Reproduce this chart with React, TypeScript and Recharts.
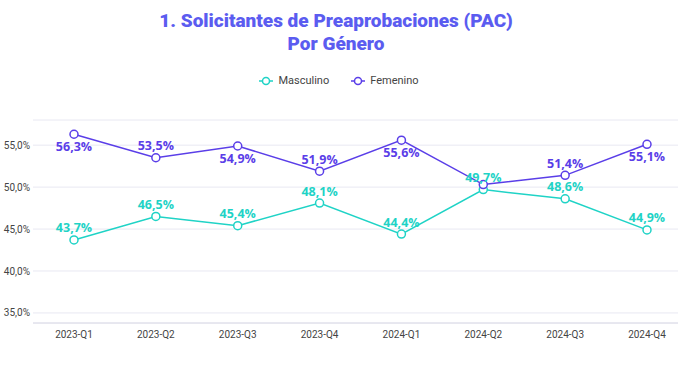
import React from 'react';
import { LineChart, Line, XAxis, YAxis, CartesianGrid } from 'recharts';

const quarters = ['2023-Q1', '2023-Q2', '2023-Q3', '2023-Q4', '2024-Q1', '2024-Q2', '2024-Q3', '2024-Q4'];
const masculino = [43.7, 46.5, 45.4, 48.1, 44.4, 49.7, 48.6, 44.9];
const femenino = [56.3, 53.5, 54.9, 51.9, 55.6, 50.3, 51.4, 55.1];
// where each value label sits relative to its point (null = not drawn)
const masculinoLabelPos = ['above', 'above', 'above', 'above', 'above', 'above', 'above', 'above'];
const femeninoLabelPos = ['below', 'above', 'below', 'above', 'below', null, 'above', 'below'];
const yTicks = [35, 40, 45, 50, 55];

const TEAL = '#1fd3c6';
const PURPLE = '#5a3ee8';
const FONT = 'Roboto, "Open Sans", sans-serif';

const data = quarters.map((q, i) => ({ q, masculino: masculino[i], femenino: femenino[i] }));

const fmt = (v: number) => `${v.toFixed(1).replace('.', ',')}%`;

function makeLabel(color: string, positions: (string | null)[]) {
  return (props: any) => {
    const { x, y, value, index } = props;
    const pos = positions[index];
    if (!pos) return null;
    const dy = pos === 'above' ? -12 : 12;
    return (
      <text
        x={x}
        y={y + dy}
        textAnchor="middle"
        dominantBaseline="central"
        fill={color}
        fontSize={12.5}
        fontWeight={700}
        fontFamily={'"Open Sans", sans-serif'}
      >
        {fmt(value)}
      </text>
    );
  };
}

function LegendItem({ color, label }: { color: string; label: string }) {
  return (
    <span style={{ display: 'inline-flex', alignItems: 'center', margin: '0 11px' }}>
      <svg width={14} height={10} style={{ marginRight: 5 }}>
        <line x1={0} y1={5} x2={14} y2={5} stroke={color} strokeWidth={1.5} />
        <circle cx={7} cy={5} r={3.5} fill="#fff" stroke={color} strokeWidth={1.5} />
      </svg>
      <span style={{ color: '#444', fontSize: 11 }}>{label}</span>
    </span>
  );
}

const titleStyle: React.CSSProperties = {
  position: 'absolute',
  left: 0,
  width: 672,
  textAlign: 'center',
  color: '#5b5cf0',
  fontFamily: 'Roboto, sans-serif',
  fontWeight: 900,
  fontSize: 19,
  lineHeight: '22px',
};

export default function App() {
  return (
    <div style={{ position: 'fixed', left: 0, top: 0, width: 678, height: 381, background: '#fff', fontFamily: FONT }}>
      <div style={{ ...titleStyle, top: 10 }}>1. Solicitantes de Preaprobaciones (PAC)</div>
      <div style={{ ...titleStyle, top: 32.5 }}>Por Género</div>
      <div style={{ position: 'absolute', top: 74, left: 0, width: 678, textAlign: 'center', lineHeight: '14px' }}>
        <LegendItem color={TEAL} label="Masculino" />
        <LegendItem color={PURPLE} label="Femenino" />
      </div>
      <LineChart width={678} height={381} data={data} margin={{ top: 120, right: 0, bottom: 28, left: 0 }}>
        <CartesianGrid vertical={false} stroke="#e8e8f2" />
        <XAxis
          dataKey="q"
          padding={{ left: 41, right: 31 }}
          tickLine={false}
          axisLine={{ stroke: '#dcdce6' }}
          tickSize={0}
          tickMargin={8}
          tick={{ fill: '#444', fontSize: 10, fontFamily: FONT }}
          interval={0}
        />
        <YAxis
          width={33}
          domain={[33.8, 58]}
          ticks={yTicks}
          tickFormatter={fmt}
          axisLine={false}
          tickLine={false}
          tickSize={0}
          tickMargin={3}
          tick={{ fill: '#444', fontSize: 10, fontFamily: FONT }}
        />
        <Line
          dataKey="masculino"
          stroke={TEAL}
          strokeWidth={1.5}
          dot={{ r: 4, fill: '#fff', stroke: TEAL, strokeWidth: 1.5 }}
          label={makeLabel(TEAL, masculinoLabelPos)}
          isAnimationActive={false}
        />
        <Line
          dataKey="femenino"
          stroke={PURPLE}
          strokeWidth={1.5}
          dot={{ r: 4, fill: '#fff', stroke: PURPLE, strokeWidth: 1.5 }}
          label={makeLabel(PURPLE, femeninoLabelPos)}
          isAnimationActive={false}
        />
      </LineChart>
    </div>
  );
}
